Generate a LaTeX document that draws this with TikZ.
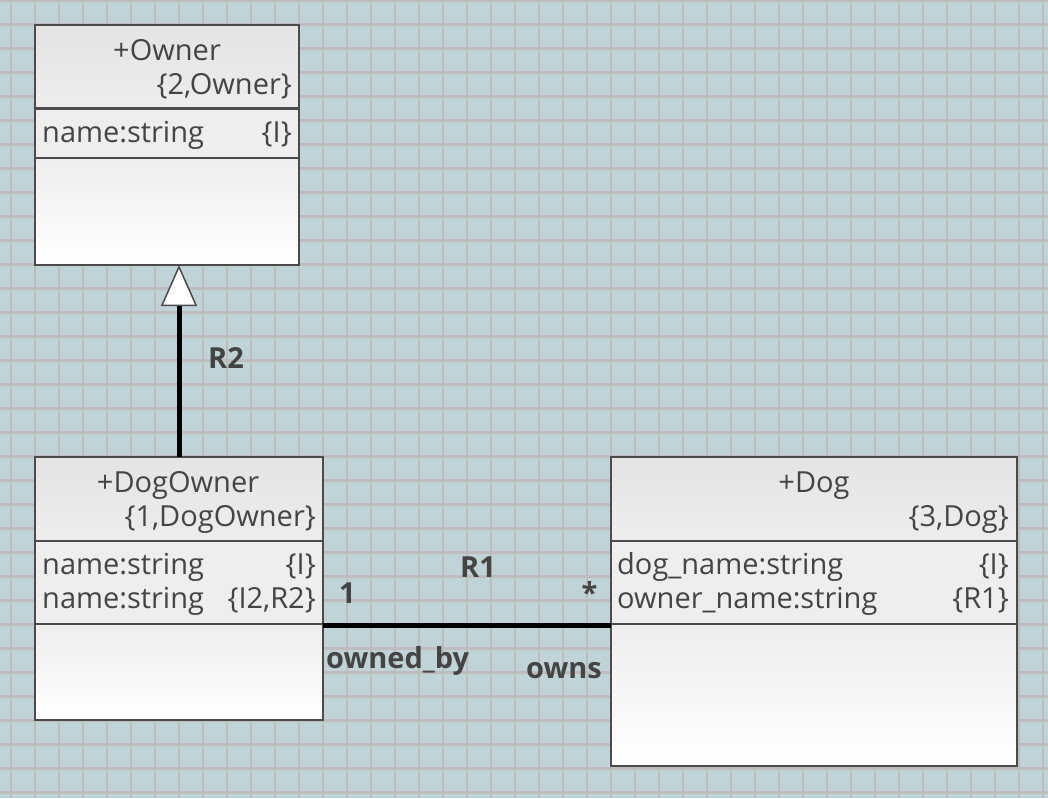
\documentclass[tikz,border=0pt]{standalone}
\usepackage{fontspec}
\setmainfont{Open Sans}
\usetikzlibrary{arrows.meta,calc}
\definecolor{bg}{RGB}{192,211,214}
\definecolor{gridc}{RGB}{190,189,189}
\definecolor{boxline}{RGB}{75,75,75}
\definecolor{txt}{RGB}{68,68,68}
\definecolor{hdrtop}{RGB}{228,228,228}
\definecolor{hdrbot}{RGB}{237,237,237}
\definecolor{attrc}{RGB}{238,238,238}
\tikzset{
  fnt/.style={font=\fontsize{29}{35}\selectfont, text=txt, inner sep=0pt},
  lbl/.style={font=\fontsize{29}{35}\selectfont\bfseries, text=txt, inner sep=0pt},
  classbox/.style={draw=boxline, line width=2.3pt, inner sep=0pt, outer sep=0pt, rectangle, anchor=north west},
  sepline/.style={draw=boxline, line width=2.3pt},
  assoc/.style={line width=5pt, draw=black},
}
% #1 name, #2 left, #3 right, #4 top, #5 header sep, #6 attr sep, #7 bottom
\newcommand\umlcls[7]{%
  \shade[top color=hdrtop, bottom color=hdrbot] (#2,#4) rectangle (#3,#5);
  \fill[attrc] (#2,#5) rectangle (#3,#6);
  \shade[top color=attrc, bottom color=white] (#2,#6) rectangle (#3,#7);
  \node[classbox, minimum width={(#3-#2)*1pt}, minimum height={(#7-#4)*1pt}] (#1) at (#2,#4) {};
  \draw[sepline] (#2,#5) -- (#3,#5);
  \draw[sepline] (#2,#6) -- (#3,#6);
}
\begin{document}
\begin{tikzpicture}[x=1pt, y=-1pt]
\useasboundingbox (0,0) rectangle (1048,798);
\fill[bg] (0,0) rectangle (1048,798);
\foreach \k in {0,...,43} {\draw[gridc, line width=2.3pt] ({10.7+24*\k},0) -- ({10.7+24*\k},798);}
\foreach \k in {0,...,33} {\draw[gridc, line width=2.3pt] (0,{0.5+24*\k}) -- (1048,{0.5+24*\k});}

% classes
\umlcls{owner}{35}{299}{25}{108.5}{158}{265}
\umlcls{dogowner}{35}{323}{457}{541}{624}{720}
\umlcls{dog}{611}{1017}{457}{541}{624}{766}

% Owner texts
\node[fnt, anchor=base] (ownerT) at (167,60) {+Owner};
\node[fnt, anchor=base east] (ownerS) at (292,94.5) {\{2,Owner\}};
\node[fnt, anchor=base west] (ownerA1) at (42,142.5) {name:string};
\node[fnt, anchor=base east] (ownerA1c) at (292,142.5) {\{I\}};

% DogOwner texts
\node[fnt, anchor=base] (doT) at (178,492) {+DogOwner};
\node[fnt, anchor=base east] (doS) at (316,526.5) {\{1,DogOwner\}};
\node[fnt, anchor=base west] (doA1) at (42,574.5) {name:string};
\node[fnt, anchor=base east] (doA1c) at (316,574.5) {\{I\}};
\node[fnt, anchor=base west] (doA2) at (42,608.5) {name:string};
\node[fnt, anchor=base east] (doA2c) at (316,608.5) {\{I2,R2\}};

% Dog texts
\node[fnt, anchor=base] (dogT) at (814,492) {+Dog};
\node[fnt, anchor=base east] (dogS) at (1009,526.5) {\{3,Dog\}};
\node[fnt, anchor=base west] (dogA1) at (617,574.5) {dog\_name:string};
\node[fnt, anchor=base east] (dogA1c) at (1009,574.5) {\{I\}};
\node[fnt, anchor=base west] (dogA2) at (617,608.5) {owner\_name:string};
\node[fnt, anchor=base east] (dogA2c) at (1009,608.5) {\{R1\}};

% R2 generalisation
\draw[line width=5pt, draw=black, -{Triangle[length=41pt, width=36pt, line width=1.5pt, color=boxline, fill=white]}]
  (dogowner.north) -- (dogowner.north |- owner.south);
\node[lbl, anchor=base west] (r2) at (208,368) {R2};

% R1 association
\coordinate (r1y) at (0,625);
\draw[assoc] (dogowner.east |- r1y) -- (dog.west |- r1y);
\node[lbl, anchor=base] (r1) at (478,577.5) {R1};
\node[lbl, anchor=base west] (m1) at (339,603.5) {1};
\node[lbl, anchor=base] (mstar) at (589.5,603.5) {*};
\node[lbl, anchor=base west] (ownedby) at (326,668.5) {owned\_by};
\node[lbl, anchor=base west] (owns) at (526,678.5) {owns};
\end{tikzpicture}
\end{document}
